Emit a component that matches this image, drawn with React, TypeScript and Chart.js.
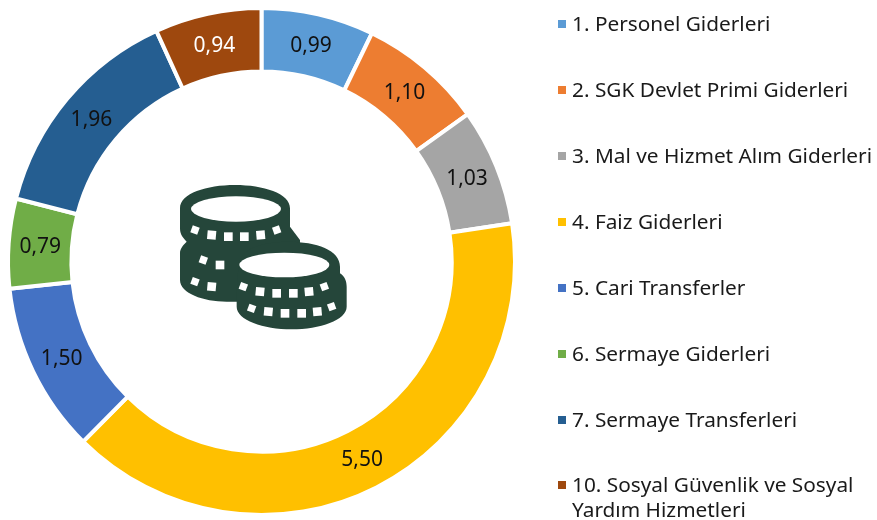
import React, { useEffect, useRef } from "react";
import { Chart, registerables, Plugin } from "chart.js";

Chart.register(...registerables);

const categories = [
  "1. Personel Giderleri",
  "2. SGK Devlet Primi Giderleri",
  "3. Mal ve Hizmet Alım Giderleri",
  "4. Faiz Giderleri",
  "5. Cari Transferler",
  "6. Sermaye Giderleri",
  "7. Sermaye Transferleri",
  "10. Sosyal Güvenlik ve Sosyal Yardım Hizmetleri",
];
const legendLines = [
  ["1. Personel Giderleri"],
  ["2. SGK Devlet Primi Giderleri"],
  ["3. Mal ve Hizmet Alım Giderleri"],
  ["4. Faiz Giderleri"],
  ["5. Cari Transferler"],
  ["6. Sermaye Giderleri"],
  ["7. Sermaye Transferleri"],
  ["10. Sosyal Güvenlik ve Sosyal", "Yardım Hizmetleri"],
];
const values = [0.99, 1.1, 1.03, 5.5, 1.5, 0.79, 1.96, 0.94];
const colors = ["#5B9BD5", "#ED7D31", "#A5A5A5", "#FFC000", "#4472C4", "#70AD47", "#255E91", "#9E480E"];
const labelColors = ["#111111", "#111111", "#111111", "#111111", "#111111", "#111111", "#111111", "#ffffff"];
const legendTop = [24, 90, 156, 222, 288, 354, 420, 485];

const FONT = '"Noto Sans", sans-serif';

const sliceLabels: Plugin<"doughnut"> = {
  id: "sliceLabels",
  afterDatasetsDraw(chart) {
    const { ctx } = chart;
    const meta = chart.getDatasetMeta(0);
    ctx.save();
    ctx.font = `21px ${FONT}`;
    ctx.textAlign = "center";
    ctx.textBaseline = "middle";
    meta.data.forEach((arc, i) => {
      const p = arc.getCenterPoint();
      ctx.fillStyle = labelColors[i];
      ctx.fillText(values[i].toFixed(2).replace(".", ","), p.x, p.y + 1);
    });
    ctx.restore();
  },
};

const coinSquares: [number, number, number, number][] = [
  [105, 180, 20, 22], [155, 195, 5, 26], [205, 200, 0, 26], [253, 200, 0, 26], [302, 195, -5, 26], [350, 180, -20, 22],
  [130, 270, 20, 22], [180, 285, 0, 26],
  [105, 335, 20, 22], [155, 350, 5, 26],
  [250, 350, 20, 22], [300, 365, 5, 26], [350, 370, 0, 26], [400, 370, 0, 26], [447, 365, -5, 26], [493, 350, -20, 22],
  [275, 415, 20, 22], [325, 425, 5, 26], [375, 430, 0, 26], [425, 430, 0, 26], [472, 425, -5, 26], [515, 410, -20, 22],
];

function CoinIcon() {
  return (
    <svg
      viewBox="0 0 600 510"
      width={200}
      height={170}
      style={{ position: "absolute", left: 160, top: 170 }}
    >
      <path
        fill="#25463A"
        d="M60 115 C60 70 140 45 225 45 C310 45 390 70 390 115 V170 L420 210 V300 H280 V395 H200 C130 395 60 370 60 330 V250 C60 235 70 225 80 215 C65 200 60 190 60 175 Z"
      />
      <path
        fill="#25463A"
        d="M235 290 C235 240 300 215 385 215 C470 215 540 240 540 290 V310 C555 320 560 335 560 350 V410 C560 450 480 478 395 478 C310 478 230 450 230 410 V370 Z"
      />
      <ellipse cx={228} cy={117} rx={135} ry={38} fill="#fff" />
      <ellipse cx={373} cy={285} rx={135} ry={37} fill="#fff" />
      {coinSquares.map(([x, y, r, s], i) => (
        <rect
          key={i}
          x={x - s / 2}
          y={y - s / 2}
          width={s}
          height={s}
          fill="#fff"
          transform={`rotate(${r} ${x} ${y})`}
        />
      ))}
    </svg>
  );
}

export default function App() {
  const ref = useRef<HTMLCanvasElement>(null);
  useEffect(() => {
    document.body.style.margin = "0";
    const chart = new Chart(ref.current!, {
      type: "doughnut",
      data: {
        labels: categories,
        datasets: [
          {
            data: values,
            backgroundColor: colors,
            borderColor: "#ffffff",
            borderWidth: 4,
          },
        ],
      },
      options: {
        responsive: false,
        animation: false,
        cutout: "75%",
        layout: { padding: { left: 6, right: 360, top: 6, bottom: 3 } },
        plugins: { legend: { display: false }, tooltip: { enabled: false } },
      },
      plugins: [sliceLabels],
    });
    return () => chart.destroy();
  }, []);
  return (
    <div style={{ position: "relative", width: 877, height: 520, overflow: "hidden", background: "#fff" }}>
      <canvas ref={ref} width={877} height={520} style={{ position: "absolute", left: 0, top: 0 }} />
      <CoinIcon />
      {legendLines.map((lines, i) => (
        <React.Fragment key={i}>
          <div
            style={{
              position: "absolute",
              left: 558,
              top: legendTop[i] - 4,
              width: 8,
              height: 8,
              background: colors[i],
            }}
          />
          <div
            style={{
              position: "absolute",
              left: 572,
              top: legendTop[i] - 13,
              font: `20.8px/25px ${FONT}`,
              color: "#1a1a1a",
              whiteSpace: "nowrap",
            }}
          >
            {lines.map((l, j) => (
              <div key={j}>{l}</div>
            ))}
          </div>
        </React.Fragment>
      ))}
    </div>
  );
}
